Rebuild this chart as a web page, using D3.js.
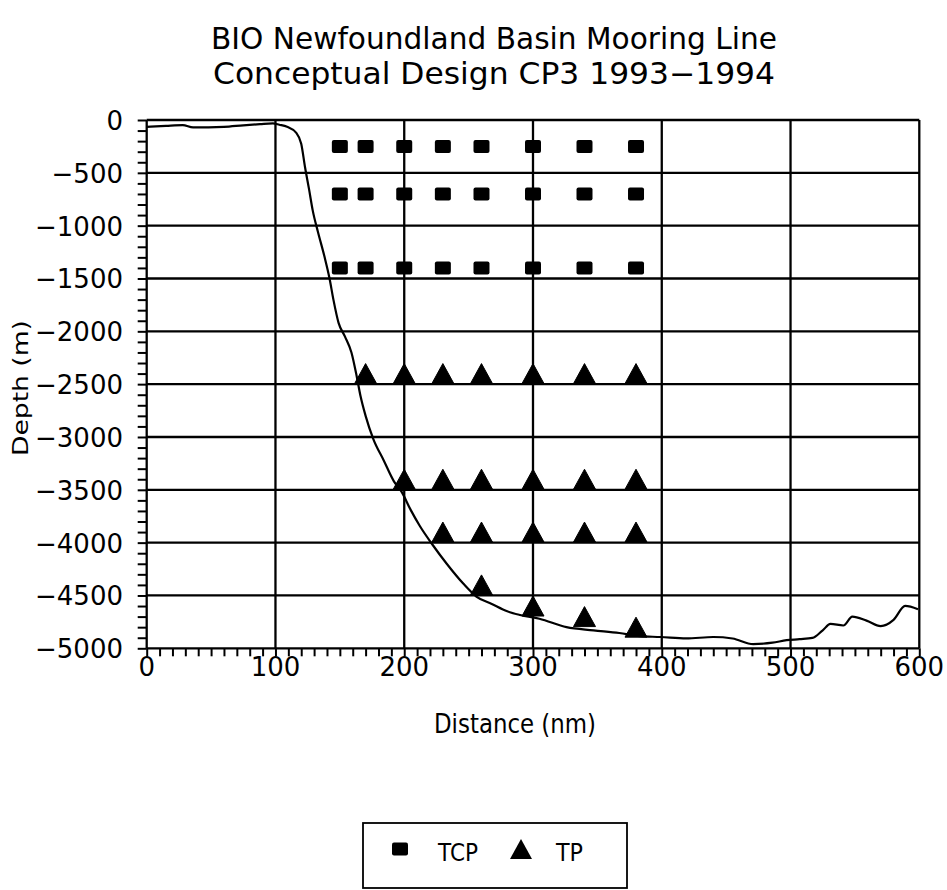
<!DOCTYPE html>
<html>
<head>
<meta charset="utf-8">
<script src="https://cdn.jsdelivr.net/npm/d3@7"></script>
<style>
  html, body { margin: 0; padding: 0; background: #fff; }
  svg { display: block; }
  text { font-family: "DejaVu Sans", "Liberation Sans", sans-serif; fill: #000; }
</style>
</head>
<body>
<svg id="chart" width="947" height="890"></svg>
<script>
// Chart text
const titleLines = ["BIO Newfoundland Basin Mooring Line", "Conceptual Design CP3  1993\u22121994"];
const xTitle = "Distance (nm)";
const yTitle = "Depth (m)";

// Axis ticks
const xTickValues = [0, 100, 200, 300, 400, 500, 600];
const yTickValues = [0, -500, -1000, -1500, -2000, -2500, -3000, -3500, -4000, -4500, -5000];

// Bottom profile along the line: distance (nm), depth (m)
const profileDistance = [0, 15, 28, 36, 60, 75, 88, 98, 103, 109, 116, 120, 123, 126, 129, 133, 138, 142, 145, 149,
  154, 159, 163, 166, 170, 176, 184, 192, 198, 205, 212, 222, 233, 246, 256, 268, 280, 290, 305, 326,
  347, 367, 383, 399, 419, 440, 455, 471, 486, 497, 507, 517, 525, 531, 541, 548, 559, 570, 580, 589, 599];
const profileDepth = [-65, -55, -48, -70, -65, -50, -39, -32, -45, -65, -120, -225, -450, -650, -860, -1060, -1290, -1500, -1700, -1920,
  -2050, -2200, -2420, -2610, -2800, -3020, -3220, -3420, -3520, -3690, -3840, -4020, -4200, -4390, -4510, -4580, -4650, -4685, -4720, -4800,
  -4830, -4855, -4885, -4893, -4907, -4893, -4907, -4960, -4947, -4923, -4914, -4902, -4830, -4769, -4784, -4700, -4738, -4790, -4731, -4599, -4630];

// TCP instruments (squares)
const tcpDistance = [150, 170, 200, 230, 260, 300, 340, 380,
                     150, 170, 200, 230, 260, 300, 340, 380,
                     150, 170, 200, 230, 260, 300, 340, 380];
const tcpDepth = [-250, -250, -250, -250, -250, -250, -250, -250,
                  -700, -700, -700, -700, -700, -700, -700, -700,
                  -1400, -1400, -1400, -1400, -1400, -1400, -1400, -1400];

// TP instruments (triangles)
const tpDistance = [170, 200, 230, 260, 300, 340, 380,
                    200, 230, 260, 300, 340, 380,
                    230, 260, 300, 340, 380,
                    260, 300, 340, 380];
const tpDepth = [-2400, -2400, -2400, -2400, -2400, -2400, -2400,
                 -3400, -3400, -3400, -3400, -3400, -3400,
                 -3900, -3900, -3900, -3900, -3900,
                 -4400, -4600, -4700, -4800];

const legendLabels = ["TCP", "TP"];

const svg = d3.select("#chart");

const x = d3.scaleLinear().domain([0, 600]).range([146.7, 919.3]);
const y = d3.scaleLinear().domain([-5000, 0]).range([648.3, 120]);

const ink = "#000";

// Title
svg.selectAll("text.title").data(titleLines).join("text")
  .attr("class", "title")
  .attr("x", 494).attr("y", (d, i) => 49 + i * 35)
  .attr("text-anchor", "middle")
  .attr("font-size", 30)
  .attr("textLength", (d, i) => i === 0 ? 566 : 562)
  .attr("lengthAdjust", "spacingAndGlyphs")
  .text(d => d);

// Grid lines
const grid = svg.append("g").attr("stroke", ink).attr("stroke-width", 2.3);
grid.selectAll("line.v").data(xTickValues).join("line")
  .attr("x1", d => x(d)).attr("x2", d => x(d))
  .attr("y1", y(0)).attr("y2", y(-5000));
grid.selectAll("line.h").data(yTickValues).join("line")
  .attr("x1", x(0)).attr("x2", x(600))
  .attr("y1", d => y(d)).attr("y2", d => y(d));

// Axes with minor ticks
const xAxisMinor = d3.axisBottom(x).tickValues(d3.range(0, 601, 10)).tickSize(8).tickFormat("");
const gx = svg.append("g").attr("transform", `translate(0,${y(-5000)})`).call(xAxisMinor);
gx.select(".domain").remove();
gx.selectAll("line").attr("stroke", ink).attr("stroke-width", 2);

const yAxisMinor = d3.axisLeft(y).tickValues(d3.range(-5000, 1, 100)).tickSize(9).tickFormat("");
const gy = svg.append("g").attr("transform", `translate(${x(0)},0)`).call(yAxisMinor);
gy.select(".domain").remove();
gy.selectAll("line").attr("stroke", ink).attr("stroke-width", 2);

// Tick labels
const fmt = d3.format("d");
svg.append("g").selectAll("text").data(xTickValues).join("text")
  .attr("x", d => x(d)).attr("y", 676)
  .attr("text-anchor", "middle")
  .attr("font-size", 26)
  .text(d => fmt(d));
svg.append("g").selectAll("text").data(yTickValues).join("text")
  .attr("x", 123).attr("y", d => y(d) + 10)
  .attr("text-anchor", "end")
  .attr("font-size", 26)
  .text(d => fmt(d));

// Axis titles
svg.append("text")
  .attr("x", 515).attr("y", 733)
  .attr("text-anchor", "middle")
  .attr("font-size", 27)
  .attr("textLength", 162).attr("lengthAdjust", "spacingAndGlyphs")
  .text(xTitle);
svg.append("text")
  .attr("transform", "translate(28,388) rotate(-90)")
  .attr("text-anchor", "middle")
  .attr("font-size", 22)
  .attr("textLength", 136).attr("lengthAdjust", "spacingAndGlyphs")
  .text(yTitle);

// Bottom profile
const profile = profileDistance.map((d, i) => [d, profileDepth[i]]);
svg.append("path")
  .datum(profile)
  .attr("fill", "none").attr("stroke", ink).attr("stroke-width", 2.2)
  .attr("stroke-linejoin", "round")
  .attr("d", d3.line().x(d => x(d[0])).y(d => y(d[1])).curve(d3.curveMonotoneX));

// Markers
const sqW = 16, sqH = 13;
const triW = 22, triH = 20;
const triPath = `M0,${-triH / 2}L${triW / 2},${triH / 2}L${-triW / 2},${triH / 2}Z`;

svg.append("g").selectAll("rect").data(tcpDistance.map((d, i) => [d, tcpDepth[i]])).join("rect")
  .attr("x", d => x(d[0]) - sqW / 2).attr("y", d => y(d[1]) - sqH / 2)
  .attr("width", sqW).attr("height", sqH).attr("rx", 2)
  .attr("fill", ink);

svg.append("g").selectAll("path").data(tpDistance.map((d, i) => [d, tpDepth[i]])).join("path")
  .attr("transform", d => `translate(${x(d[0])},${y(d[1])})`)
  .attr("d", triPath)
  .attr("fill", ink).attr("stroke", ink).attr("stroke-width", 1).attr("stroke-linejoin", "round");

// Legend
const legend = svg.append("g");
legend.append("rect")
  .attr("x", 363).attr("y", 823).attr("width", 264).attr("height", 65)
  .attr("fill", "none").attr("stroke", ink).attr("stroke-width", 1.8);
legend.append("rect")
  .attr("x", 400 - sqW / 2).attr("y", 849 - sqH / 2).attr("width", sqW).attr("height", sqH).attr("rx", 2)
  .attr("fill", ink);
legend.append("path")
  .attr("transform", "translate(521,849)")
  .attr("d", triPath).attr("fill", ink);
legend.selectAll("text").data(legendLabels).join("text")
  .attr("x", (d, i) => i === 0 ? 438 : 556).attr("y", 861)
  .attr("font-size", 25)
  .attr("textLength", (d, i) => i === 0 ? 40 : 27).attr("lengthAdjust", "spacingAndGlyphs")
  .text(d => d);
</script>
</body>
</html>
